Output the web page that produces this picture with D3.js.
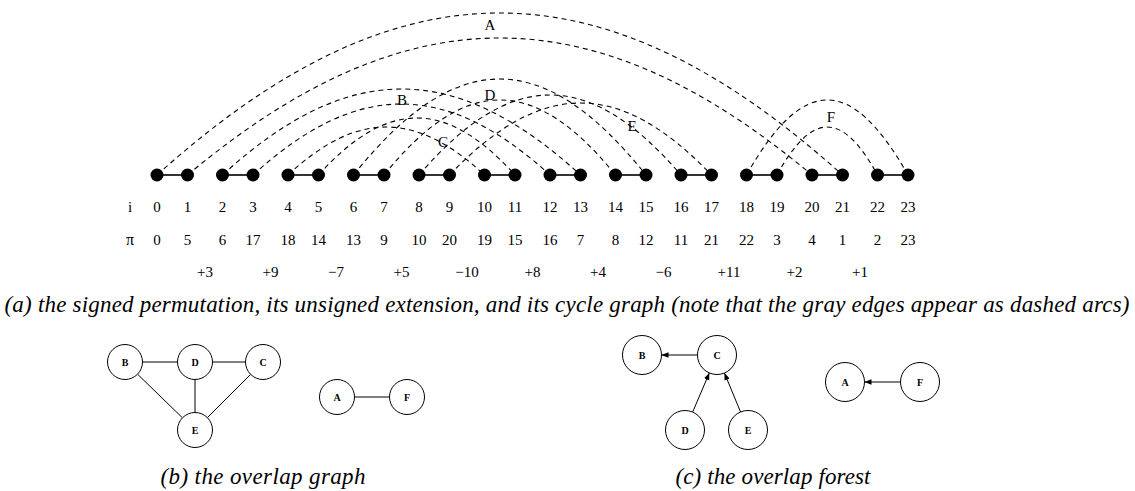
<!DOCTYPE html>
<html>
<head>
<meta charset="utf-8">
<script src="https://cdn.jsdelivr.net/npm/d3@7"></script>
<style>
  body { margin: 0; background: #fff; }
  svg { display: block; }
  text { font-family: "Liberation Serif", "Times New Roman", serif; fill: #000; }
</style>
</head>
<body>
<script>
// positions i and the unsigned extension pi
var positions = [0, 1, 2, 3, 4, 5, 6, 7, 8, 9, 10, 11, 12, 13, 14, 15, 16, 17, 18, 19, 20, 21, 22, 23];
var pi = [0, 5, 6, 17, 18, 14, 13, 9, 10, 20, 19, 15, 16, 7, 8, 12, 11, 21, 22, 3, 4, 1, 2, 23];
var signedPerm = ["+3", "+9", "\u22127", "+5", "\u221210", "+8", "+4", "\u22126", "+11", "+2", "+1"];

// height of each gray edge (values 2k and 2k+1)
var arcHeights = [162, 48, 137, 86, 75, 80, 96, 57, 71, 48, 72, 75];
var cycleNames = ["A", "B", "C", "D", "E", "F"];

// overlap graph and overlap forest
var overlapEdges = [["B", "D"], ["D", "C"], ["B", "E"], ["D", "E"], ["C", "E"], ["A", "F"]];
var forestEdges = [["C", "B"], ["D", "C"], ["E", "C"], ["F", "A"]];

// layout only
var graphLayout = { B: [125, 362], D: [195, 362], C: [263, 362], E: [195, 430], A: [337, 397], F: [407, 397] };
var forestLayout = { B: [642, 355], C: [717, 355], D: [685, 430], E: [748, 430], A: [845, 382], F: [920, 382] };
var cycleLabelPos = { A: [490, 30], B: [402, 105], C: [443, 147], D: [490, 100], E: [632, 131], F: [831, 122] };

var w = 1135, h = 491;
var baseY = 175;

var svg = d3.select("body").append("svg")
  .attr("width", w)
  .attr("height", h);

var xPair = d3.scaleLinear().domain([0, 11]).range([157, 877.5]);
function xPos(i) {
  return xPair(Math.floor(i / 2)) + (i % 2) * 30.5;
}
var yArc = d3.scaleLinear().domain([0, baseY]).range([baseY, 0]);

// gray edges join the positions of values 2k and 2k+1
var where = [];
pi.forEach(function(v, i) { where[v] = i; });
var grayEdges = arcHeights.map(function(hgt, k) {
  var a = where[2 * k], b = where[2 * k + 1];
  return { a: Math.min(a, b), b: Math.max(a, b), h: hgt };
});

function arcPath(d) {
  var x1 = xPos(d.a), x2 = xPos(d.b);
  var wid = x2 - x1;
  var yc = baseY - (4 / 3) * (baseY - yArc(d.h));
  var p = d3.path();
  p.moveTo(x1, baseY);
  p.bezierCurveTo(x1 + 0.35 * wid, yc, x2 - 0.35 * wid, yc, x2, baseY);
  return p.toString();
}

svg.selectAll("path.gray")
  .data(grayEdges)
  .enter()
  .append("path")
  .attr("class", "gray")
  .attr("d", arcPath)
  .attr("fill", "none")
  .attr("stroke", "#000")
  .attr("stroke-width", 1.1)
  .attr("stroke-dasharray", "5,4");

// black edges (2k, 2k+1)
var blackEdges = positions.filter(function(i) { return i % 2 === 0; });
svg.selectAll("line.black")
  .data(blackEdges)
  .enter()
  .append("line")
  .attr("x1", function(i) { return xPos(i); })
  .attr("x2", function(i) { return xPos(i + 1); })
  .attr("y1", baseY)
  .attr("y2", baseY)
  .attr("stroke", "#000")
  .attr("stroke-width", 1.6);

svg.selectAll("circle.pt")
  .data(positions)
  .enter()
  .append("circle")
  .attr("cx", function(i) { return xPos(i); })
  .attr("cy", baseY)
  .attr("r", 6.5)
  .attr("fill", "#000");

// cycle labels
svg.selectAll("text.cyc")
  .data(cycleNames)
  .enter()
  .append("text")
  .attr("x", function(d) { return cycleLabelPos[d][0]; })
  .attr("y", function(d) { return cycleLabelPos[d][1]; })
  .attr("text-anchor", "middle")
  .attr("font-size", "15px")
  .text(function(d) { return d; });

// rows i, pi, signed permutation
svg.append("text").attr("x", 130).attr("y", 212).attr("text-anchor", "middle").attr("font-size", "15px").text("i");
svg.append("text").attr("x", 130).attr("y", 245).attr("text-anchor", "middle").attr("font-size", "16px").text("\u03c0");

svg.selectAll("text.irow")
  .data(positions)
  .enter()
  .append("text")
  .attr("x", function(i) { return xPos(i); })
  .attr("y", 212)
  .attr("text-anchor", "middle")
  .attr("font-size", "15px")
  .text(function(i) { return i; });

svg.selectAll("text.pirow")
  .data(pi)
  .enter()
  .append("text")
  .attr("x", function(d, i) { return xPos(i); })
  .attr("y", 245)
  .attr("text-anchor", "middle")
  .attr("font-size", "15px")
  .text(function(d) { return d; });

svg.selectAll("text.srow")
  .data(signedPerm)
  .enter()
  .append("text")
  .attr("x", function(d, k) { return (xPos(2 * k + 1) + xPos(2 * k + 2)) / 2; })
  .attr("y", 277)
  .attr("text-anchor", "middle")
  .attr("font-size", "15px")
  .text(function(d) { return d; });

function caption(x, y, str, len) {
  svg.append("text")
    .attr("x", x)
    .attr("y", y)
    .attr("text-anchor", "middle")
    .attr("font-size", "23px")
    .attr("font-style", "italic")
    .attr("textLength", len)
    .attr("lengthAdjust", "spacing")
    .text(str);
}
caption(567, 312, "(a) the signed permutation, its unsigned extension, and its cycle graph (note that the gray edges appear as dashed arcs)", 1125);

// arrow marker for the forest
svg.append("defs").append("marker")
  .attr("id", "arr")
  .attr("viewBox", "0 0 10 10")
  .attr("refX", 10)
  .attr("refY", 5)
  .attr("markerWidth", 7)
  .attr("markerHeight", 7)
  .attr("markerUnits", "userSpaceOnUse")
  .attr("orient", "auto")
  .append("path")
  .attr("d", "M0,1 L10,5 L0,9 Z")
  .attr("fill", "#000");

function drawGraph(layout, edges, r, arrows) {
  var g = svg.append("g");
  g.selectAll("line")
    .data(edges)
    .enter()
    .append("line")
    .each(function(e) {
      var p = layout[e[0]], q = layout[e[1]];
      var dx = q[0] - p[0], dy = q[1] - p[1];
      var len = Math.sqrt(dx * dx + dy * dy);
      var ux = dx / len, uy = dy / len;
      d3.select(this)
        .attr("x1", p[0] + ux * r)
        .attr("y1", p[1] + uy * r)
        .attr("x2", q[0] - ux * r)
        .attr("y2", q[1] - uy * r);
    })
    .attr("stroke", "#000")
    .attr("stroke-width", 1)
    .attr("marker-end", arrows ? "url(#arr)" : null);

  var nodes = Object.keys(layout);
  g.selectAll("circle")
    .data(nodes)
    .enter()
    .append("circle")
    .attr("cx", function(d) { return layout[d][0]; })
    .attr("cy", function(d) { return layout[d][1]; })
    .attr("r", r)
    .attr("fill", "#fff")
    .attr("stroke", "#000")
    .attr("stroke-width", 1);

  g.selectAll("text")
    .data(nodes)
    .enter()
    .append("text")
    .attr("x", function(d) { return layout[d][0]; })
    .attr("y", function(d) { return layout[d][1] + 3.5; })
    .attr("text-anchor", "middle")
    .attr("font-size", "10px")
    .attr("font-weight", "bold")
    .text(function(d) { return d; });
}

drawGraph(graphLayout, overlapEdges, 17.5, false);
drawGraph(forestLayout, forestEdges, 19.5, true);

caption(263, 484, "(b) the overlap graph", 205);
caption(773, 484, "(c) the overlap forest", 195);
</script>
</body>
</html>
